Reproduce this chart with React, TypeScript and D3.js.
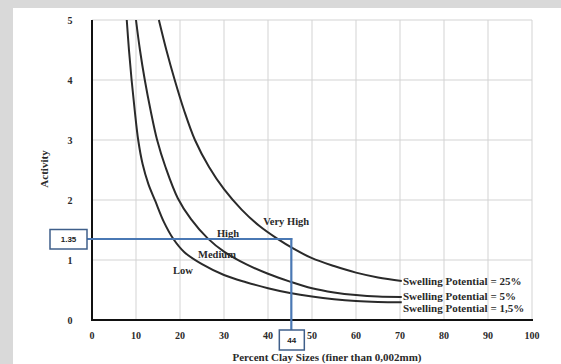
import {useEffect, useRef} from "react";
import * as d3 from "d3";

// curves: clay % vs activity
const lowClay = [7.9, 8.4, 9.0, 9.7, 10.5, 11.5, 12.8, 14.4, 16.3, 18.5, 21, 25, 30, 35, 40, 45, 50, 55, 60, 65, 70.4];
const lowAct = [5.0, 4.5, 4.0, 3.5, 3.0, 2.6, 2.27, 1.98, 1.64, 1.35, 1.13, 0.93, 0.75, 0.63, 0.53, 0.45, 0.39, 0.345, 0.315, 0.3, 0.295];

const midClay = [10.0, 10.9, 12.0, 13.3, 14.8, 16.7, 19.5, 22.5, 26.3, 30, 35, 40, 45, 50, 55, 60, 65, 70.4];
const midAct = [5.0, 4.5, 4.0, 3.5, 3.0, 2.55, 2.03, 1.68, 1.36, 1.14, 0.93, 0.77, 0.64, 0.53, 0.46, 0.415, 0.39, 0.385];

const highClay = [15.2, 16.9, 18.8, 20.9, 23.4, 26.6, 30, 34, 38, 42, 46, 50, 55, 60, 65, 70.4];
const highAct = [5.0, 4.5, 4.0, 3.5, 3.0, 2.55, 2.18, 1.84, 1.57, 1.36, 1.18, 1.03, 0.9, 0.79, 0.71, 0.65];

const curveLabels = ["Swelling Potential = 25%", "Swelling Potential = 5%", "Swelling Potential = 1,5%"];
const curveLabelAct = [0.64, 0.39, 0.2];

const zoneNames = ["Very High", "High", "Medium", "Low"];
const zoneClay = [38.9, 28.4, 24.1, 18.4];
const zoneAct = [1.58, 1.39, 1.04, 0.77];

const xTicks = [0, 10, 20, 30, 40, 50, 60, 70, 80, 90, 100];
const yTicks = [0, 1, 2, 3, 4, 5];

const readActivity = 1.35;
const readClayLabel = "44";
const readClayLine = 45.3;

const W = 561, H = 364;
const serif = "'Liberation Serif', 'Times New Roman', serif";

const App = () => {
    const ref = useRef(null);

    useEffect(() => {
        const svg = d3.select(ref.current);
        svg.selectAll("*").remove();

        // page backdrop (grey watermark strip)
        svg.append("rect").attr("width", W).attr("height", H).attr("fill", "#d9d9d9");
        svg.append("rect").attr("x", 13).attr("y", 8).attr("width", W - 13).attr("height", H - 8).attr("fill", "#fff");

        const x = d3.scaleLinear().domain([0, 100]).range([92, 532]);
        const y = d3.scaleLinear().domain([0, 5]).range([320, 20]);

        const g = svg.append("g");

        // grid
        g.selectAll(".vg").data(xTicks.slice(1)).enter().append("line")
            .attr("x1", d => x(d)).attr("x2", d => x(d))
            .attr("y1", y(5)).attr("y2", y(0))
            .attr("stroke", "#d3d3d3").attr("stroke-width", 1);
        g.selectAll(".hg").data(yTicks.slice(1)).enter().append("line")
            .attr("x1", x(0)).attr("x2", x(100))
            .attr("y1", d => y(d)).attr("y2", d => y(d))
            .attr("stroke", "#d3d3d3").attr("stroke-width", 1);

        // axes
        g.append("line").attr("x1", x(0)).attr("x2", x(0)).attr("y1", y(5)).attr("y2", y(0) + 1)
            .attr("stroke", "#111").attr("stroke-width", 2);
        g.append("line").attr("x1", x(0) - 1).attr("x2", x(100) + 1).attr("y1", y(0)).attr("y2", y(0))
            .attr("stroke", "#111").attr("stroke-width", 2);

        g.selectAll(".xt").data(xTicks).enter().append("text")
            .attr("x", d => x(d)).attr("y", 338.5)
            .attr("text-anchor", "middle")
            .attr("font-family", serif).attr("font-weight", "bold").attr("font-size", 10)
            .attr("fill", "#2a2a2a")
            .text(d => d);
        g.selectAll(".yt").data(yTicks).enter().append("text")
            .attr("x", 70).attr("y", d => y(d) + 3.5)
            .attr("text-anchor", "middle")
            .attr("font-family", serif).attr("font-weight", "bold").attr("font-size", 10)
            .attr("fill", "#2a2a2a")
            .text(d => d);

        g.append("text")
            .attr("x", 327).attr("y", 360.5)
            .attr("text-anchor", "middle")
            .attr("font-family", serif).attr("font-weight", "bold").attr("font-size", 11)
            .attr("fill", "#2a2a2a")
            .text("Percent Clay Sizes (finer than 0,002mm)");
        g.append("text")
            .attr("transform", "translate(48,169) rotate(-90)")
            .attr("text-anchor", "middle")
            .attr("font-family", serif).attr("font-weight", "bold").attr("font-size", 11)
            .attr("fill", "#2a2a2a")
            .text("Activity");

        // curves
        const line = d3.line<number[]>()
            .x(d => x(d[0])).y(d => y(d[1]))
            .curve(d3.curveCatmullRom.alpha(0.5));
        const series = [
            d3.zip(highClay, highAct),
            d3.zip(midClay, midAct),
            d3.zip(lowClay, lowAct),
        ];
        g.selectAll(".curve").data(series).enter().append("path")
            .attr("d", d => line(d))
            .attr("fill", "none")
            .attr("stroke", "#2a2a2a")
            .attr("stroke-width", 2);

        g.selectAll(".cl").data(curveLabels).enter().append("text")
            .attr("x", 403).attr("y", (d, i) => y(curveLabelAct[i]) + 3.8)
            .attr("font-family", serif).attr("font-weight", "bold").attr("font-size", 11)
            .attr("fill", "#2a2a2a")
            .text(d => d);

        g.selectAll(".zone").data(zoneNames).enter().append("text")
            .attr("x", (d, i) => x(zoneClay[i])).attr("y", (d, i) => y(zoneAct[i]))
            .attr("font-family", serif).attr("font-weight", "bold").attr("font-size", 10.5)
            .attr("fill", "#2a2a2a")
            .text(d => d);

        // reading lines
        const blue = "#4a78b4";
        g.append("line")
            .attr("x1", 87).attr("x2", x(readClayLine) + 1)
            .attr("y1", y(readActivity)).attr("y2", y(readActivity))
            .attr("stroke", blue).attr("stroke-width", 2.2);
        g.append("line")
            .attr("x1", x(readClayLine)).attr("x2", x(readClayLine))
            .attr("y1", y(readActivity) - 1).attr("y2", 330)
            .attr("stroke", blue).attr("stroke-width", 2.2);

        const box = "#3f5f8a";
        g.append("rect").attr("x", 50).attr("y", y(readActivity) - 9.5).attr("width", 37).attr("height", 19.5)
            .attr("fill", "#fff").attr("stroke", box).attr("stroke-width", 1.5);
        g.append("text")
            .attr("x", 68.5).attr("y", y(readActivity) + 3)
            .attr("text-anchor", "middle")
            .attr("font-family", "'Liberation Sans', Arial, sans-serif").attr("font-weight", "bold").attr("font-size", 8)
            .attr("fill", "#222")
            .text(String(readActivity));
        g.append("rect").attr("x", x(readClayLine) - 12).attr("y", 330).attr("width", 25).attr("height", 20)
            .attr("fill", "#fff").attr("stroke", box).attr("stroke-width", 1.5);
        g.append("text")
            .attr("x", x(readClayLine) + 0.5).attr("y", 343)
            .attr("text-anchor", "middle")
            .attr("font-family", "'Liberation Sans', Arial, sans-serif").attr("font-weight", "bold").attr("font-size", 8)
            .attr("fill", "#222")
            .text(readClayLabel);
    }, []);

    return (
        <svg ref={ref} width={W} height={H}
             style={{position: "absolute", left: 0, top: 0, display: "block"}}></svg>
    );
};

export default App;
